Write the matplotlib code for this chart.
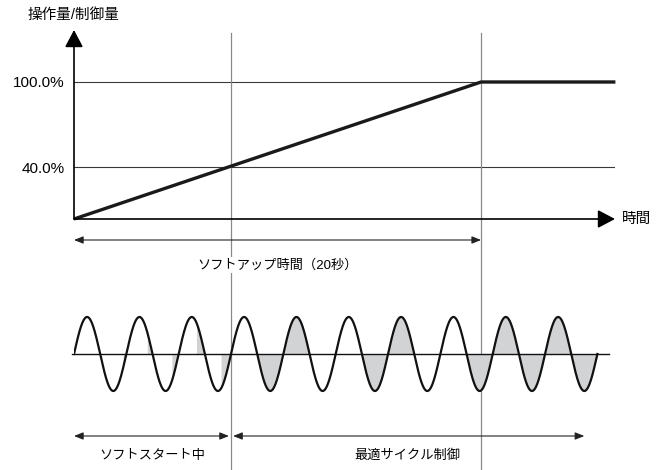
import numpy as np
import matplotlib
matplotlib.use('Agg')
import matplotlib.pyplot as plt
from matplotlib import transforms
from matplotlib.lines import Line2D

plt.rcParams['font.family'] = ['Liberation Sans', 'Noto Sans CJK JP', 'DejaVu Sans']

# ---------------- data ----------------
ramp_time = [0, 20, 26.6]          # s
ramp_value = [3.3, 100, 100]       # %
ytick_values = [40, 100]
ytick_labels = ['40.0%', '100.0%']
soft_up_time = 20                  # s
soft_start_end = 7.7               # s (ramp reaches 40%)
# conduction fraction of each half cycle (soft start phase control, then cycle control)
half_cycle_on = [0, 0.12, 0.20, 0.26, 0.32, 0.38,
                 0, 1, 1, 0, 0, 1, 1, 0, 0, 1, 1, 1, 1, 1]
soft_start_halves = 6
optimal_end_half = 19.5

W, H = 667, 470
fig = plt.figure(figsize=(W / 100, H / 100), dpi=100)


def rect(l, t, r, b):
    return [l / W, 1 - b / H, (r - l) / W, (b - t) / H]


# ---------------- top panel ----------------
ax = fig.add_axes(rect(74, 30, 615, 219))
ax.patch.set_visible(False)
for s in ax.spines.values():
    s.set_visible(False)
xmax, ymin, ymax = 26.58, 3.3, 136.7

vt = transforms.blended_transform_factory(ax.transData, fig.transFigure)
for t in [soft_start_end, soft_up_time]:
    ax.add_line(Line2D([t, t], [1 - 33 / H, 0], transform=vt, color='#8a8a8a',
                       lw=0.9, clip_on=False, zorder=1))

ax.plot(ramp_time, ramp_value, color='#1a1a1a', lw=2.4, solid_capstyle='butt',
        zorder=3, clip_on=False)

ax.set_xlim(0, xmax)
ax.set_ylim(ymin, ymax)
ax.set_xticks([])
ax.set_yticks(ytick_values, ytick_labels)
ax.tick_params(axis='y', length=0, pad=7, labelsize=11)
ax.yaxis.grid(True, color='#3a3a3a', lw=0.8)
ax.set_axisbelow(True)

arrow_big = dict(arrowstyle='-|>,head_length=0.7,head_width=0.37', mutation_scale=15,
                 lw=1.2, color='black', shrinkA=0, shrinkB=0)
ax.annotate('', xy=(xmax, ymin), xytext=(0, ymin), arrowprops=arrow_big,
            annotation_clip=False, zorder=4)
ax.annotate('', xy=(0, ymax), xytext=(0, ymin), arrowprops=arrow_big,
            annotation_clip=False, zorder=4)
ax.annotate('時間', xy=(1, 0), xycoords='axes fraction', xytext=(5, 0),
            textcoords='offset points', ha='left', va='center', fontsize=10.5)

arrow_small = dict(arrowstyle='<|-|>,head_length=0.55,head_width=0.22', mutation_scale=10,
                   lw=0.8, color='#222222', shrinkA=0, shrinkB=0)
y_arr = 1 - 240 / H
ax.annotate('', xy=(soft_up_time, y_arr), xytext=(0, y_arr), xycoords=vt,
            textcoords=vt, arrowprops=arrow_small, annotation_clip=False)
ax.text(soft_up_time / 2, 1 - 265 / H, f'ソフトアップ時間（{soft_up_time}秒）', transform=vt,
        ha='center', va='center', fontsize=9.5,
        bbox=dict(fc='white', ec='none', pad=1), zorder=5)

fig.text(27 / W, 1 - 15 / H, '操作量/制御量', ha='left', va='center', fontsize=10.5)

# ---------------- bottom panel ----------------
bx = fig.add_axes(rect(74, 300, 615, 470))
bx.axis('off')
bx.patch.set_visible(False)
n_half = len(half_cycle_on)
x = np.linspace(0, n_half, 4001)
y = np.sin(np.pi * x)
for k, f in enumerate(half_cycle_on):
    if f > 0:
        m = (x >= k + 1 - f - 1e-9) & (x <= k + 1 + 1e-9)
        bx.fill_between(x[m], y[m], 0, color='#d1d3d4', lw=0, zorder=1)
bx.plot([-0.08, n_half + 0.45], [0, 0], color='#111111', lw=1.0, zorder=2, clip_on=False)
bx.plot(x, y, color='#111111', lw=1.6, zorder=3)
bx.set_xlim(0, 541 / 26.17)
bx.set_ylim(-3.135, 1.459)

yb = -2.216
bx.annotate('', xy=(soft_start_halves, yb), xytext=(0, yb),
            arrowprops=dict(arrow_small, shrinkB=1.5), annotation_clip=False)
bx.annotate('', xy=(optimal_end_half, yb), xytext=(soft_start_halves, yb),
            arrowprops=dict(arrow_small, shrinkA=1.5), annotation_clip=False)
bx.text(soft_start_halves / 2, -2.757, 'ソフトスタート中', ha='center', va='center', fontsize=9.5)
bx.text((soft_start_halves + optimal_end_half) / 2, -2.757, '最適サイクル制御',
        ha='center', va='center', fontsize=9.5)

fig.savefig('out.png', dpi=100)
